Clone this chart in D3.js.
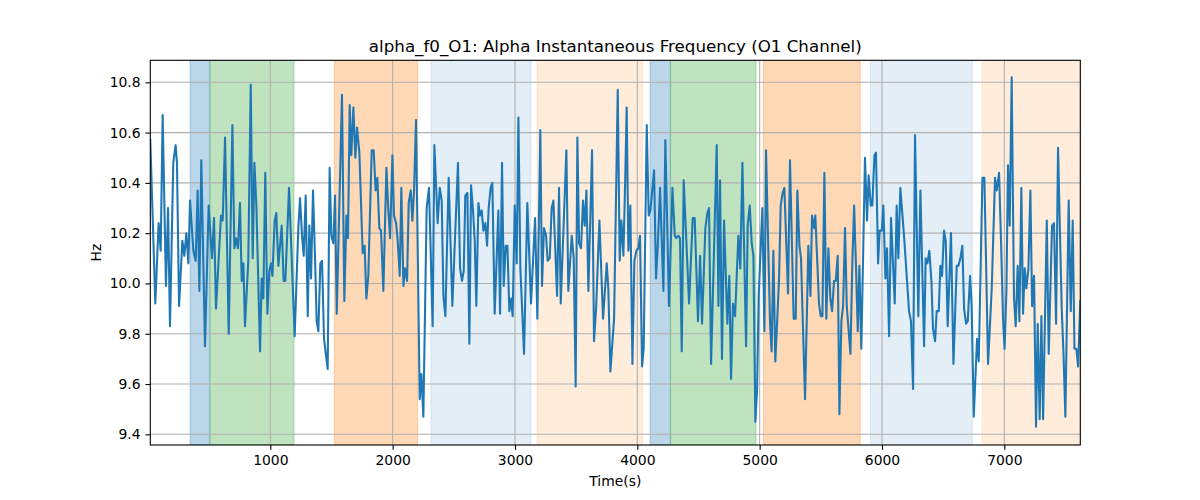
<!DOCTYPE html>
<html><head><meta charset="utf-8">
<script src="https://cdn.jsdelivr.net/npm/d3@7"></script>
<style>body{margin:0;background:#fff}svg{display:block;font-family:"DejaVu Sans",sans-serif}</style>
</head><body><svg id="c" width="1200" height="500"></svg>
<script>
const times = [19,60,87,104,120,147,164,180,207,226,237,254,281,297,314,330,344,371,390,406,420,436,466,496,523,540,556,597,611,630,660,690,706,720,736,752,766,780,793,
820,840,856,870,886,916,929,943,959,976,992,1006,1017,1036,1049,1066,1093,1109,1123,1153,1199,1229,1243,1259,1273,1289,1306,1319,1333,1349,1365,1379,1393,1409,1423,1439,1469,1485,1499,1515,1529,1543,
1586,1605,1622,1635,1649,1662,1679,1695,1709,1728,1755,1771,1785,1801,1829,1845,1861,1875,1891,1905,1924,1949,1965,1979,1998,2011,2028,2041,2058,2071,2088,2101,2118,2131,2148,2161,2175,2191,2221,2235,2251,2278,2297,2327,
2341,2368,2385,2401,2415,2431,2458,2488,2534,2551,2567,2581,2594,2611,2627,2641,2657,2671,2684,2701,2714,2728,2742,2758,2772,2785,2801,2815,2834,2864,2878,2894,2908,2924,2938,2954,2968,2981,2998,3014,3028,3044,3074,3101,
3131,3164,3183,3207,3221,3237,3254,3267,3284,3300,3314,3344,3360,3374,3420,3436,3464,3480,3496,3510,3524,3540,3556,3570,3584,3600,3630,3646,3663,3690,3720,3750,3763,3780,3810,3840,3856,3870,3886,3900,
3913,3927,3943,3960,3976,3992,4009,4022,4039,4052,4077,4093,4107,4120,4137,4153,4169,4186,4213,4229,4259,4287,4306,4319,4336,4349,4363,4379,4423,4453,4469,4496,4513,4529,4556,4573,4586,4603,4649,4663,4676,
4692,4709,4736,4752,4766,4782,4799,4826,4842,4859,4889,4902,4919,4935,4949,4965,4979,4992,5022,5039,5052,5085,5098,5112,5128,5158,5172,5188,5202,5232,5248,5278,5295,5308,5325,5338,5371,5398,5415,5428,5445,
5455,5469,5485,5499,5513,5529,5545,5562,5578,5592,5608,5622,5638,5652,5668,5682,5698,5712,5728,5742,5758,5772,5788,5802,5815,5831,5861,5878,5891,5908,5921,5938,5951,5968,5981,5998,6011,6028,6041,6058,6074,6104,6120,6134,6150,6180,6194,
6221,6237,6254,6270,6297,6314,6344,6357,6371,6387,6404,6417,6434,6447,6464,6477,6491,6507,6521,6537,6564,6584,6611,6624,6641,6657,6671,6687,6701,6720,6733,6750,6777,6791,6821,6837,6867,6897,6924,6938,6957,6973,6990,
7002,7017,7030,7044,7060,7079,7093,7109,7123,7139,7153,7167,7180,7197,7213,7227,7243,7259,7273,7289,7303,7317,7347,7363,7390,7406,7423,7439,7469,7483,7499,7526,7543,7559,7573,7589,7603,7621];

const values = [10.57,9.92,10.24,10.13,10.67,9.99,10.30,9.83,10.48,10.55,10.48,9.91,10.17,10.11,10.20,10.08,10.33,10.13,10.09,10.37,9.97,10.49,9.75,10.31,10.10,10.26,9.90,10.27,10.25,10.58,9.80,10.63,10.14,10.18,10.14,10.32,10.01,10.08,9.83,
10.09,10.79,10.10,10.48,10.31,9.73,10.02,9.94,10.44,9.88,10.05,10.08,10.03,10.25,10.28,10.07,10.23,10.01,10.01,10.38,9.79,10.22,10.34,10.19,10.11,10.35,9.87,10.23,10.02,10.37,10.11,9.85,9.81,10.08,10.09,9.78,9.66,10.46,10.19,10.16,10.35,9.88,
10.75,9.93,10.27,10.18,10.71,10.51,10.70,10.50,10.62,10.52,10.12,10.15,9.94,10.03,10.53,10.53,10.37,10.42,10.22,10.21,9.97,10.46,10.29,10.18,10.51,10.27,10.24,10.17,10.03,10.38,9.99,10.06,10.01,10.32,10.37,10.25,10.37,10.65,9.54,9.64,9.47,10.30,10.38,9.83,
10.55,10.24,10.38,10.33,9.95,9.87,10.42,9.91,10.48,10.06,10.01,10.05,10.35,10.36,9.76,10.39,10.29,10.17,9.91,10.32,10.27,10.29,10.21,10.24,10.15,10.30,10.38,10.40,9.88,10.29,9.88,10.48,9.99,10.15,10.15,9.89,9.94,9.87,10.31,10.08,10.66,10.06,9.72,10.32,
9.92,10.26,9.86,10.61,9.99,10.22,10.19,10.09,10.10,10.30,10.33,9.95,10.38,9.92,10.53,9.97,10.19,10.10,9.59,10.58,10.16,10.14,10.33,10.23,10.37,9.97,10.53,9.77,9.90,10.25,9.86,10.08,9.98,9.65,9.86,10.77,10.09,10.25,10.11,10.39,
10.70,10.13,10.31,9.68,10.09,10.13,10.14,10.19,9.67,9.74,10.63,10.27,10.29,10.36,10.45,10.02,10.17,10.38,9.97,10.57,9.91,10.38,10.19,10.18,10.19,10.18,9.73,10.41,9.92,10.26,10.26,9.85,10.11,9.84,10.22,10.28,10.30,9.68,10.55,9.91,10.41,
9.70,10.25,9.84,10.03,9.62,9.92,9.87,10.19,10.06,10.48,9.75,10.23,10.31,10.16,10.11,9.45,9.58,9.95,10.30,9.81,10.53,9.84,9.73,10.13,9.69,10.01,10.31,10.36,10.38,9.96,10.49,9.86,9.86,10.37,10.15,10.10,9.54,10.15,9.95,10.27,10.22,
10.27,10.11,9.92,9.87,9.87,10.44,9.86,10.14,9.94,9.89,10.01,10.01,10.11,9.48,9.85,9.91,10.22,9.91,9.81,9.72,10.09,10.31,10.06,9.81,10.07,9.74,10.50,10.25,10.43,10.31,10.31,10.51,10.52,10.08,10.21,10.21,10.31,10.02,10.14,9.79,10.26,9.92,10.31,10.10,10.38,10.19,10.09,
9.89,9.85,9.58,10.59,9.87,10.37,9.75,10.10,10.08,10.13,10.01,9.82,9.77,9.89,9.89,10.07,10.03,10.21,10.17,9.83,10.20,9.68,10.07,10.07,10.10,10.15,9.90,9.84,9.85,10.03,9.91,9.47,9.78,9.69,10.42,10.42,9.68,9.98,10.42,10.37,10.44,10.17,9.85,
9.74,9.97,10.47,10.23,10.82,9.94,9.83,10.07,9.85,10.38,9.88,10.06,9.98,10.06,10.37,9.91,10.03,9.43,9.84,9.46,9.87,9.46,10.25,9.72,10.23,10.24,9.84,10.54,9.90,9.73,9.47,10.33,9.89,10.25,9.74,9.74,9.67,9.93];

const spanStarts = [344, 506, 1523, 2313, 3180, 4104, 4270, 5030, 5905, 6820];
const spanEnds   = [506, 1194, 2204, 3131, 4044, 4270, 4970, 5823, 6739, 7700];
const spanKinds  = ["blue","green","orange","lightblue","lightorange","blue","green","orange","lightblue","lightorange"];

const xTicks = [1000,2000,3000,4000,5000,6000,7000];
const yTicks = [9.4,9.6,9.8,10.0,10.2,10.4,10.6,10.8];

const spanStyle = {
  blue: {c:"#1f77b4", a:0.3}, green: {c:"#2ca02c", a:0.3}, orange: {c:"#ff7f0e", a:0.3},
  lightblue: {c:"#1f77b4", a:0.12}, lightorange: {c:"#ff7f0e", a:0.15}
};

const L = 150.3, R = 1080.3, T = 60.3, B = 445;
const svg = d3.select("#c");
const x = d3.scaleLinear().domain([19, 7621]).range([L, R]);
const y = d3.scaleLinear().domain([9.3575, 10.8875]).range([B, T]);

svg.append("defs").append("clipPath").attr("id","clip")
  .append("rect").attr("x",L).attr("y",T).attr("width",R-L).attr("height",B-T);

const plot = svg.append("g").attr("clip-path","url(#clip)");
plot.selectAll("rect.span").data(spanStarts.map((s,i)=>({s, e:spanEnds[i], k:spanKinds[i]})))
  .enter().append("rect")
  .attr("x", d=>x(d.s)).attr("width", d=>x(d.e)-x(d.s))
  .attr("y", T).attr("height", B-T)
  .attr("fill", d=>spanStyle[d.k].c).attr("fill-opacity", d=>spanStyle[d.k].a)
  .attr("stroke", d=>spanStyle[d.k].c).attr("stroke-opacity", d=>spanStyle[d.k].a).attr("stroke-width",1);

// grid
plot.selectAll("line.gx").data(xTicks).enter().append("line")
  .attr("x1",d=>x(d)).attr("x2",d=>x(d)).attr("y1",T).attr("y2",B)
  .attr("stroke","#b0b0b0").attr("stroke-width",1.1);
plot.selectAll("line.gy").data(yTicks).enter().append("line")
  .attr("y1",d=>y(d)).attr("y2",d=>y(d)).attr("x1",L).attr("x2",R)
  .attr("stroke","#b0b0b0").attr("stroke-width",1.1);

const data = times.map((t,i)=>[t, values[i]]);
plot.append("path").datum(data)
  .attr("fill","none").attr("stroke","#1f77b4").attr("stroke-width",2.08)
  .attr("stroke-linejoin","round").attr("stroke-linecap","square")
  .attr("d", d3.line().x(d=>x(d[0])).y(d=>y(d[1])));

// axes
const xAxis = svg.append("g").attr("transform",`translate(0,${B})`)
  .call(d3.axisBottom(x).tickValues(xTicks).tickSize(4.86).tickPadding(4.86).tickFormat(d3.format("d")));
const yAxis = svg.append("g").attr("transform",`translate(${L},0)`)
  .call(d3.axisLeft(y).tickValues(yTicks).tickSize(4.86).tickPadding(4.86).tickFormat(d3.format(".1f")));
[xAxis,yAxis].forEach(a=>{
  a.select(".domain").remove();
  a.selectAll(".tick line").attr("stroke","#000").attr("stroke-width",1.1);
  a.selectAll(".tick text").attr("fill","#000").style("font-size","13.9px").style("font-family","DejaVu Sans");
});

svg.append("rect").attr("x",L).attr("y",T).attr("width",R-L).attr("height",B-T)
  .attr("fill","none").attr("stroke","#000").attr("stroke-width",1.1);

svg.append("text").attr("x",(L+R)/2).attr("y",52).attr("text-anchor","middle")
  .style("font-size","16.7px").text("alpha_f0_O1: Alpha Instantaneous Frequency (O1 Channel)");
svg.append("text").attr("x",(L+R)/2).attr("y",486).attr("text-anchor","middle")
  .style("font-size","13.9px").text("Time(s)");
svg.append("text").attr("transform",`translate(101,${(T+B)/2}) rotate(-90)`).attr("text-anchor","middle")
  .style("font-size","13.9px").text("Hz");
</script></body></html>
